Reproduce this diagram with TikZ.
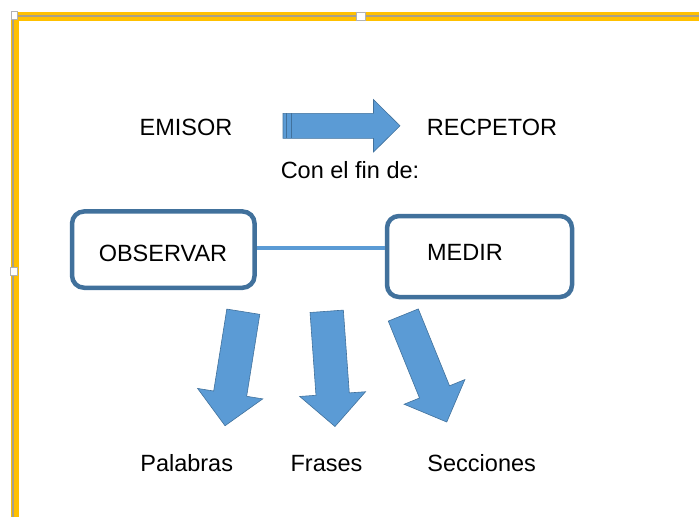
\documentclass[tikz,border=0pt]{standalone}
\usepackage{fontspec}
\setmainfont{Liberation Sans}
\usetikzlibrary{positioning}
\definecolor{shapeblue}{HTML}{5B9BD5}
\definecolor{edgeblue}{HTML}{41719C}
\definecolor{frameyellow}{HTML}{FFC000}
\definecolor{framegray}{HTML}{A8A089}

\tikzset{
    pics/blockarrow/.style n args = {4}{code = {
        \filldraw[arrowbody] (0,-#2) -- (#1-#4,-#2) -- (#1-#4,-#3) -- (#1,0)
            -- (#1-#4,#3) -- (#1-#4,#2) -- (0,#2) -- cycle;
    }}
}

\begin{document}
\begin{tikzpicture}  [
        x = 1pt, y = -1pt,
        word/.style = {inner sep=0pt, anchor=base, font=\fontsize{23.5}{28}\selectfont},
        box/.style = {rectangle, draw=edgeblue, line width=4.5pt, rounded corners=12pt, fill=white, inner sep=0pt},
        arrowbody/.style = {fill=shapeblue, draw=edgeblue, line width=0.6pt},
        link/.style = {draw=shapeblue, line width=3.5pt},
        handle/.style = {rectangle, fill=white, draw=gray!60, line width=0.8pt, inner sep=0pt}
    ]

    \useasboundingbox (0,0) rectangle (699,517);

    % selection frame
    \draw[frameyellow, line width=8.5pt] (15,517) -- (15,16.5) -- (699,16.5);
    \draw[framegray, line width=1.8pt] (13,517) -- (13,15.7) -- (699,15.7);
    \node[handle, minimum width=6pt, minimum height=8pt] (hcorner) at (14,15.5) {};
    \node[handle, minimum width=9pt, minimum height=8pt] (htop) at (360.5,16) {};
    \node[handle, minimum width=6.5pt, minimum height=8pt] (hleft) at (14,271) {};

    \node[word] (emisor)   at (186,135.5) {EMISOR};
    \node[word] (receptor) at (492,135.5) {RECPETOR};
    \node[word] (confin)   at (350,178.5) {Con el fin de:};

    \pic at (283,125.8) {blockarrow={117}{12.5}{26.2}{26.5}};
    \draw[edgeblue, line width=1.4pt] (286.7,113.3) -- (286.7,138.3);
    \draw[edgeblue, line width=1.4pt] (291.3,113.3) -- (291.3,138.3);

    \node[box, minimum width=182.5pt, minimum height=76.3pt] (obsbox) at (163.3,249.6) {};
    \node[box, minimum width=185pt,   minimum height=81pt]   (medbox) at (479.5,256.5) {};
    \node[word] (observar) at (163,261)   {OBSERVAR};
    \node[word] (medir)    at (465,260.5) {MEDIR};

    \coordinate (linky) at (0,248);
    \draw[link] (obsbox.east |- linky) -- (medbox.west |- linky);

    \pic[rotate=-99.1] at (243.3,311.7) {blockarrow={115.5}{16.7}{33}{32.5}};
    \pic[rotate=-85.9] at (326.7,311.3) {blockarrow={115.5}{16.7}{33}{32.5}};
    \pic[rotate=-67.9] at (403.3,315)   {blockarrow={115.5}{16.2}{32.8}{32.5}};

    \node[word] (palabras)  at (186.7,471) {Palabras};
    \node[word] (frases)    at (326.5,471) {Frases};
    \node[word] (secciones) at (481.7,471) {Secciones};
%    \draw (medbox) -- (secciones);

\end{tikzpicture}
\end{document}
